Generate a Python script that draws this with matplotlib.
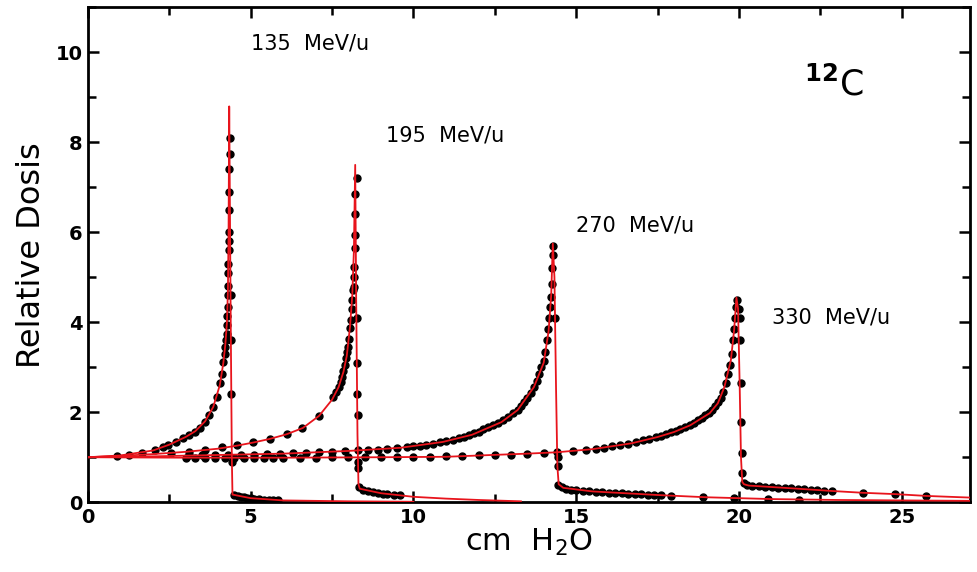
import numpy as np
import matplotlib.pyplot as plt
from matplotlib.ticker import MultipleLocator

# model curves (red lines), cm H2O vs relative dose
x1_fit = [0, 1, 2, 2.5, 3, 3.3, 3.6, 3.85, 4.05, 4.16, 4.22, 4.27, 4.3, 4.32, 4.34, 4.38, 4.42, 4.44, 5.0, 6.0, 8.0, 10.0]
y1_fit = [1.0, 1.04, 1.15, 1.28, 1.45, 1.58, 1.8, 2.12, 2.6, 3.1, 3.5, 4.0, 4.7, 6.0, 8.8, 4.6, 1.0, 0.17, 0.09, 0.04, 0.02, 0.01]

x2_fit = [0, 1, 2, 3, 4, 4.6, 5.1, 5.6, 6.1, 6.6, 7.1, 7.5, 7.7, 7.85, 7.95, 8.05, 8.12, 8.17, 8.21, 8.24, 8.28, 8.31, 8.35, 9.0, 10.0, 11.0, 12.0, 13.3]
y2_fit = [1.0, 1.03, 1.07, 1.12, 1.19, 1.26, 1.33, 1.41, 1.51, 1.65, 1.92, 2.28, 2.56, 2.9, 3.25, 3.9, 4.6, 5.6, 7.5, 4.5, 1.5, 0.4, 0.3, 0.2, 0.12, 0.08, 0.05, 0.02]

x3_fit = [0, 2, 4, 6, 8, 9.6, 10.9, 11.8, 12.7, 13.2, 13.7, 14.0, 14.15, 14.23, 14.28, 14.33, 14.38, 14.42, 14.46, 14.6, 15.5, 16.5, 17.5, 19.0, 21.0, 23.0, 25.0, 27.2]
y3_fit = [1.0, 1.02, 1.05, 1.08, 1.14, 1.21, 1.34, 1.5, 1.78, 2.05, 2.56, 3.1, 3.8, 4.6, 5.75, 5.0, 2.5, 0.8, 0.4, 0.32, 0.24, 0.2, 0.16, 0.11, 0.07, 0.05, 0.04, 0.03]

x4_fit = [0, 3, 6, 9, 11, 12.4, 13.5, 14.4, 15.5, 16.15, 16.7, 17.5, 18.0, 18.5, 19.1, 19.35, 19.55, 19.75, 19.85, 19.92,
          19.97, 20.02, 20.06, 20.1, 20.15, 20.3, 21.6, 22.85, 23.8, 24.8, 25.75, 27.2]
y4_fit = [1.0, 0.99, 0.99, 1.0, 1.01, 1.05, 1.08, 1.11, 1.18, 1.25, 1.31, 1.45, 1.56, 1.71, 1.98, 2.2, 2.56, 3.16, 3.83, 4.55,
          4.3, 2.6, 1.0, 0.45, 0.4, 0.37, 0.31, 0.25, 0.21, 0.18, 0.14, 0.1]

# measured points (black dots)
x1 = [0.88, 1.25, 1.65, 2.06, 2.3, 2.47, 2.7, 2.93, 3.1, 3.3, 3.45, 3.6, 3.72, 3.85, 3.95, 4.06, 4.12, 4.16, 4.2, 4.22,
      4.24, 4.26, 4.27, 4.28, 4.29, 4.3, 4.3, 4.31, 4.31, 4.32, 4.32, 4.33, 4.33, 4.34, 4.34, 4.35, 4.35, 4.38, 4.39, 4.41,
      4.43, 4.5, 4.6, 4.7, 4.8, 4.9, 5.0, 5.1, 5.25, 5.4, 5.55, 5.7, 5.85]
y1 = [1.02, 1.05, 1.09, 1.17, 1.22, 1.27, 1.34, 1.42, 1.49, 1.56, 1.65, 1.78, 1.95, 2.12, 2.35, 2.65, 2.85, 3.12, 3.3, 3.45,
      3.6, 3.75, 3.95, 4.15, 4.35, 4.6, 4.8, 5.1, 5.3, 5.6, 5.8, 6.0, 6.5, 6.9, 7.4, 7.75, 8.1, 4.6, 3.6, 2.4,
      0.9, 0.16, 0.14, 0.12, 0.11, 0.10, 0.09, 0.08, 0.07, 0.06, 0.05, 0.05, 0.04]

x2 = [2.55, 3.1, 3.6, 4.12, 4.58, 5.08, 5.6, 6.12, 6.58, 7.1, 7.54, 7.62, 7.7, 7.76, 7.8, 7.85, 7.9, 7.94, 7.97, 8.0,
      8.03, 8.06, 8.08, 8.1, 8.12, 8.14, 8.16, 8.17, 8.18, 8.19, 8.2, 8.21, 8.21, 8.25, 8.27, 8.28, 8.28, 8.29, 8.3, 8.3,
      8.33, 8.45, 8.6, 8.75, 8.9, 9.05, 9.2, 9.4, 9.6]
y2 = [1.09, 1.12, 1.16, 1.22, 1.27, 1.33, 1.4, 1.51, 1.65, 1.92, 2.34, 2.45, 2.56, 2.68, 2.78, 2.92, 3.05, 3.2, 3.35, 3.45,
      3.62, 3.87, 4.05, 4.3, 4.5, 4.72, 4.79, 5.0, 5.23, 5.65, 5.95, 6.4, 6.85, 7.2, 4.1, 3.1, 2.4, 1.95, 0.9, 0.76,
      0.33, 0.27, 0.24, 0.22, 0.2, 0.19, 0.18, 0.17, 0.15]

x3 = [3.1, 3.5, 3.9, 4.3, 4.7, 5.1, 5.5, 5.9, 6.3, 6.7,
      7.1, 7.5, 7.9, 8.3, 8.6, 8.9, 9.2, 9.5, 9.8, 10.0,
      10.2, 10.4, 10.6, 10.8, 11.0, 11.2, 11.4, 11.55, 11.7, 11.85,
      12.0, 12.15, 12.3, 12.45, 12.6, 12.75, 12.9, 13.05, 13.2, 13.3,
      13.4, 13.5, 13.6, 13.7, 13.78, 13.86, 13.93, 14.0, 14.05, 14.1,
      14.14, 14.17, 14.2, 14.22, 14.24, 14.26, 14.28, 14.3, 14.36, 14.43,
      14.43, 14.45, 14.55, 14.7, 14.85, 15.0, 15.2, 15.4, 15.6, 15.8,
      16.0, 16.2, 16.4, 16.6, 16.8, 17.0, 17.2, 17.4, 17.6, 17.9,
      18.9, 19.85, 20.9, 21.85]
y3 = [1.04, 1.04, 1.05, 1.05, 1.06, 1.06, 1.07, 1.08, 1.09, 1.1,
      1.11, 1.12, 1.13, 1.15, 1.16, 1.17, 1.19, 1.2, 1.22, 1.24,
      1.26, 1.28, 1.3, 1.33, 1.36, 1.39, 1.43, 1.46, 1.49, 1.53,
      1.57, 1.62, 1.67, 1.72, 1.77, 1.83, 1.9, 1.98, 2.06, 2.13,
      2.22, 2.32, 2.43, 2.56, 2.7, 2.85, 3.0, 3.15, 3.35, 3.6,
      3.85, 4.1, 4.35, 4.57, 4.85, 5.2, 5.5, 5.7, 4.1, 1.0,
      0.8, 0.38, 0.33, 0.3, 0.28, 0.27, 0.25, 0.24, 0.23, 0.22,
      0.21, 0.2, 0.2, 0.19, 0.18, 0.18, 0.17, 0.16, 0.15, 0.13,
      0.11, 0.09, 0.07, 0.06]

x4 = [3.0, 3.3, 3.6, 3.9, 4.2, 4.5, 4.8, 5.1, 5.4, 5.7,
      6.0, 6.5, 7.0, 7.5, 8.0, 8.5, 9.0, 9.5, 10.0, 10.5,
      11.0, 11.5, 12.0, 12.5, 13.0, 13.5, 14.0, 14.4, 14.9, 15.3,
      15.6, 15.85, 16.1, 16.35, 16.6, 16.85, 17.05, 17.25, 17.45, 17.6,
      17.75, 17.9, 18.05, 18.2, 18.35, 18.5, 18.62, 18.74, 18.86, 18.97,
      19.08, 19.18, 19.27, 19.36, 19.44, 19.52, 19.6, 19.67, 19.73, 19.78,
      19.82, 19.86, 19.89, 19.92, 19.95, 20.0, 20.02, 20.04, 20.05, 20.06,
      20.08, 20.1, 20.15, 20.25, 20.4, 20.6, 20.8, 21.0, 21.2, 21.4,
      21.6, 21.8, 22.0, 22.2, 22.4, 22.6, 22.85, 23.8, 24.8, 25.75]
y4 = [0.99, 0.99, 0.99, 0.99, 0.99, 0.99, 0.99, 0.99, 0.99, 0.99,
      0.99, 0.99, 0.99, 1.0, 1.0, 1.0, 1.0, 1.0, 1.01, 1.01,
      1.02, 1.03, 1.04, 1.05, 1.06, 1.08, 1.1, 1.11, 1.14, 1.17,
      1.19, 1.21, 1.24, 1.27, 1.3, 1.34, 1.38, 1.41, 1.45, 1.48,
      1.51, 1.55, 1.59, 1.63, 1.67, 1.72, 1.77, 1.82, 1.88, 1.93,
      1.99, 2.06, 2.13, 2.22, 2.32, 2.45, 2.65, 2.85, 3.05, 3.3,
      3.6, 3.85, 4.1, 4.35, 4.5, 4.3, 4.1, 3.6, 2.65, 1.78,
      1.1, 0.65, 0.42, 0.38, 0.36, 0.35, 0.34, 0.33, 0.32, 0.31,
      0.31, 0.3, 0.29, 0.28, 0.27, 0.26, 0.25, 0.21, 0.18, 0.14]

energies = ["135  MeV/u", "195  MeV/u", "270  MeV/u", "330  MeV/u"]
label_pos = [(5.0, 10.2), (9.15, 8.15), (15.0, 6.15), (21.0, 4.1)]

fig = plt.figure(figsize=(9.77, 5.72), dpi=100)
ax = fig.add_axes([0.090, 0.122, 0.903, 0.865])

fits = [(x1_fit, y1_fit), (x2_fit, y2_fit), (x3_fit, y3_fit), (x4_fit, y4_fit)]
dots = [(x1, y1), (x2, y2), (x3, y3), (x4, y4)]

for (fx, fy), (dx, dy) in zip(fits, dots):
    ax.plot(dx, dy, 'o', color='black', markersize=5, zorder=2)
    ax.plot(fx, fy, '-', color='#e8141c', linewidth=1.3, zorder=3)

for txt, (tx, ty) in zip(energies, label_pos):
    ax.text(tx, ty, txt, fontsize=15, ha='left', va='center')

ax.text(22.0, 9.3, r"$^{\mathbf{12}}$C", fontsize=25, ha='left', va='center')

ax.set_xlim(0, 27.1)
ax.set_ylim(0, 11)
ax.xaxis.set_major_locator(MultipleLocator(5))
ax.xaxis.set_minor_locator(MultipleLocator(2.5))
ax.yaxis.set_major_locator(MultipleLocator(2))
ax.yaxis.set_minor_locator(MultipleLocator(1))
ax.tick_params(which='both', direction='in', top=True, right=True, width=1.8)
ax.tick_params(which='major', length=8, labelsize=14, pad=4)
ax.tick_params(which='minor', length=6)
for lab in ax.get_xticklabels() + ax.get_yticklabels():
    lab.set_fontweight('bold')
for sp in ax.spines.values():
    sp.set_linewidth(2.0)

ax.set_xlabel(r"cm  H$_{\mathregular{2}}$O", fontsize=22, labelpad=0)
ax.set_ylabel("Relative Dosis", fontsize=23, labelpad=6)

fig.savefig("out.png", dpi=100)
